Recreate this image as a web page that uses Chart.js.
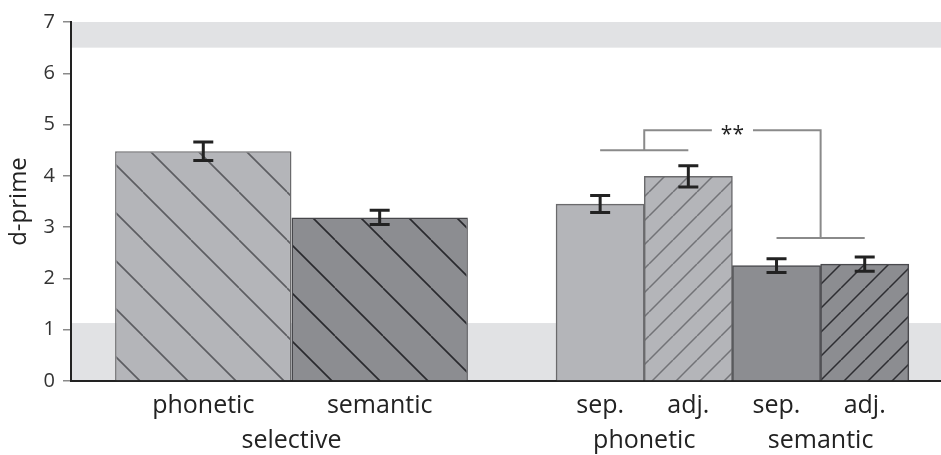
<!DOCTYPE html>
<html>
<head>
<meta charset="utf-8">
<script src="https://cdn.jsdelivr.net/npm/chart.js@4/dist/chart.umd.min.js"></script>
<style>
  html, body { margin: 0; padding: 0; background: #fff; }
  canvas { display: block; }
</style>
</head>
<body>
<canvas id="chart" width="941" height="455"></canvas>
<script>
// d-prime per condition (means and standard errors)
const selectiveConditions = ['phonetic', 'semantic'];
const selectiveMeans = [4.48, 3.19];
const selectiveErrors = [0.18, 0.14];

const dividedConditions = ['sep.', 'adj.', 'sep.', 'adj.'];
const dividedMeans = [3.45, 3.99, 2.25, 2.28];
const dividedErrors = [0.165, 0.205, 0.135, 0.14];

const groupLabels = ['selective', 'phonetic', 'semantic'];

const yTickValues = [0, 1, 2, 3, 4, 5, 6, 7];

// shaded ranges along the y axis
const lowerBand = [0, 1.13];
const upperBand = [6.5, 7];

// significance bracket: left arm, top bar, right arm levels
const bracketLevels = [4.5, 4.89, 2.79];
const bracketMark = '**';

// ---- layout along the x axis (in half-bar units) ----
const X_MAX = 19.73;
const selectiveX = selectiveConditions.map((_, i) => 3 + 4 * i);
const dividedX = dividedConditions.map((_, i) => 12 + 2 * i);
const groupX = [5, 13, 17];
const tickX = selectiveX.concat(dividedX);
const tickLabels = selectiveConditions.concat(dividedConditions);

const FONT = '"Open Sans", "Noto Sans", sans-serif';
const LIGHT = '#b4b5b9';
const DARK = '#8c8d91';

function hatch(bg, line, spacing, dir, width, phase) {
  const c = document.createElement('canvas');
  c.width = spacing; c.height = spacing;
  const g = c.getContext('2d');
  g.fillStyle = bg;
  g.fillRect(0, 0, spacing, spacing);
  g.strokeStyle = line;
  g.lineWidth = width;
  g.beginPath();
  for (let k = -1; k <= 1; k++) {
    if (dir === 'down') {
      g.moveTo(k * spacing, 0); g.lineTo(k * spacing + spacing, spacing);
    } else {
      g.moveTo(k * spacing, spacing); g.lineTo(k * spacing + spacing, 0);
    }
  }
  g.stroke();
  const p = g.createPattern(c, 'repeat');
  p.setTransform(new DOMMatrix([1, 0, 0, 1, phase, 0]));
  return p;
}

const selectiveFills = [
  hatch(LIGHT, '#5c5d61', 48, 'down', 1.6, -1),
  hatch(DARK, '#2a2a2e', 48, 'down', 1.6, -1)
];
const dividedFills = [
  LIGHT,
  hatch(LIGHT, '#727377', 24, 'up', 1.5, 1),
  DARK,
  hatch(DARK, '#2e2e32', 24, 'up', 1.5, 1)
];

const errorSets = [selectiveErrors, dividedErrors];

// grey bands drawn beneath axes and bars
const bandsPlugin = {
  id: 'bands',
  beforeDraw(chart) {
    const { ctx, chartArea: a, scales: { y } } = chart;
    ctx.save();
    ctx.fillStyle = '#e1e2e4';
    [lowerBand, upperBand].forEach(([lo, hi]) => {
      const top = y.getPixelForValue(hi);
      const bot = y.getPixelForValue(lo);
      ctx.fillRect(a.left, top, a.right - a.left, bot - top);
    });
    ctx.restore();
  }
};

// error bars and the significance bracket
const overlayPlugin = {
  id: 'overlay',
  afterDatasetsDraw(chart) {
    const { ctx, scales: { x, y } } = chart;
    ctx.save();
    ctx.strokeStyle = '#222';
    ctx.lineWidth = 3;
    ctx.lineCap = 'butt';
    chart.data.datasets.forEach((ds, di) => {
      const meta = chart.getDatasetMeta(di);
      meta.data.forEach((bar, i) => {
        const v = ds.data[i].y;
        const e = errorSets[di][i];
        const yt = y.getPixelForValue(v + e);
        const yb = y.getPixelForValue(v - e);
        const cx = bar.x;
        ctx.beginPath();
        ctx.moveTo(cx, yt); ctx.lineTo(cx, yb);
        ctx.moveTo(cx - 10, yt); ctx.lineTo(cx + 10, yt);
        ctx.moveTo(cx - 10, yb); ctx.lineTo(cx + 10, yb);
        ctx.stroke();
      });
    });

    // bracket
    const [lvLeft, lvTop, lvRight] = bracketLevels.map(v => y.getPixelForValue(v));
    const lA = x.getPixelForValue(dividedX[0]);
    const lB = x.getPixelForValue(dividedX[1]);
    const rA = x.getPixelForValue(dividedX[2]);
    const rB = x.getPixelForValue(dividedX[3]);
    const lMid = (lA + lB) / 2;
    const rMid = (rA + rB) / 2;
    const mid = (lMid + rMid) / 2;
    ctx.font = '21px ' + FONT;
    const m = ctx.measureText(bracketMark);
    const gap = m.width / 2 + 9;
    ctx.strokeStyle = '#8a8a8a';
    ctx.lineWidth = 2;
    ctx.beginPath();
    ctx.moveTo(lA, lvLeft); ctx.lineTo(lB, lvLeft);
    ctx.moveTo(lMid, lvLeft); ctx.lineTo(lMid, lvTop); ctx.lineTo(mid - gap, lvTop);
    ctx.moveTo(mid + gap, lvTop); ctx.lineTo(rMid, lvTop); ctx.lineTo(rMid, lvRight);
    ctx.moveTo(rA, lvRight); ctx.lineTo(rB, lvRight);
    ctx.stroke();

    ctx.fillStyle = '#222';
    ctx.textAlign = 'center';
    ctx.textBaseline = 'alphabetic';
    const base = lvTop + (m.actualBoundingBoxAscent - m.actualBoundingBoxDescent) / 2;
    ctx.fillText(bracketMark, mid, base);
    ctx.restore();
  }
};

new Chart(document.getElementById('chart'), {
  type: 'bar',
  data: {
    datasets: [
      {
        data: selectiveMeans.map((v, i) => ({ x: selectiveX[i], y: v })),
        backgroundColor: selectiveFills,
        borderColor: ['#6a6a6c', '#46464a'],
        borderWidth: 1.5,
        grouped: false,
        barPercentage: 2,
        categoryPercentage: 1
      },
      {
        data: dividedMeans.map((v, i) => ({ x: dividedX[i], y: v })),
        backgroundColor: dividedFills,
        borderColor: ['#6a6a6c', '#6a6a6c', '#4a4a4e', '#4a4a4e'],
        borderWidth: 1.5,
        grouped: false,
        barPercentage: 1,
        categoryPercentage: 1
      }
    ]
  },
  options: {
    responsive: false,
    animation: false,
    events: [],
    layout: { padding: { top: 22, right: 0, bottom: 0, left: 0 } },
    plugins: { legend: { display: false }, tooltip: { enabled: false } },
    scales: {
      x: {
        type: 'linear',
        position: 'bottom',
        offset: false,
        min: 0,
        max: X_MAX,
        afterBuildTicks: s => { s.ticks = tickX.map(v => ({ value: v })); },
        afterFit: s => { s.height = 42; },
        grid: { display: false, drawTicks: false, offset: false },
        border: { color: '#222', width: 2 },
        ticks: {
          callback: (v, i) => tickLabels[i],
          font: { family: FONT, size: 25 },
          color: '#222',
          padding: 10,
          maxRotation: 0,
          autoSkip: false
        }
      },
      x2: {
        type: 'linear',
        position: 'bottom',
        offset: false,
        min: 0,
        max: X_MAX,
        afterBuildTicks: s => { s.ticks = groupX.map(v => ({ value: v })); },
        afterFit: s => { s.height = 32; },
        grid: { display: false, drawTicks: false, offset: false },
        border: { display: false },
        ticks: {
          callback: (v, i) => groupLabels[i],
          font: { family: FONT, size: 25 },
          color: '#222',
          padding: 3,
          maxRotation: 0,
          autoSkip: false
        }
      },
      y: {
        min: 0,
        max: 7,
        afterBuildTicks: s => { s.ticks = yTickValues.map(v => ({ value: v })); },
        afterFit: s => { s.width = 71; },
        grid: { drawOnChartArea: false, color: '#8a8a8a', lineWidth: 1.5, tickLength: 8 },
        border: { color: '#222', width: 2 },
        ticks: { font: { family: FONT, size: 20 }, color: '#333', padding: 8 },
        title: {
          display: true,
          text: 'd-prime',
          font: { family: FONT, size: 24 },
          color: '#222',
          padding: { top: 5, bottom: 0 }
        }
      }
    }
  },
  plugins: [bandsPlugin, overlayPlugin]
});
</script>
</body>
</html>
